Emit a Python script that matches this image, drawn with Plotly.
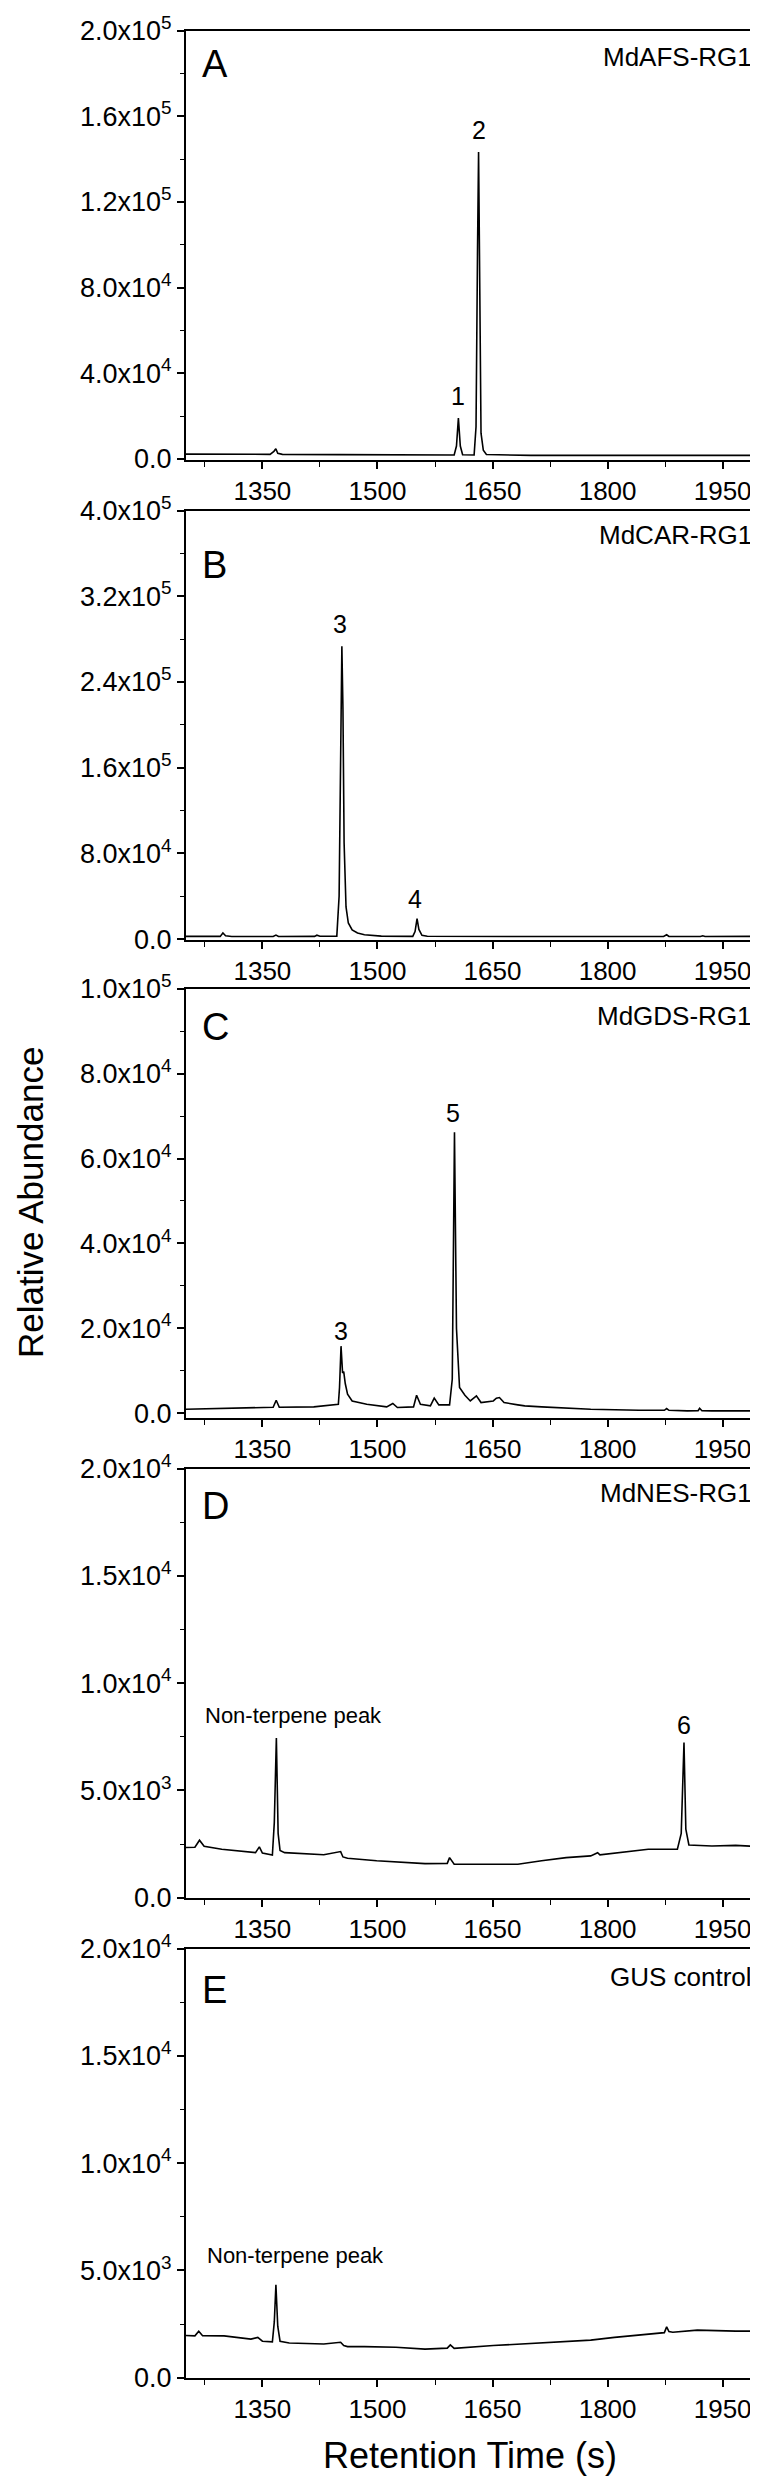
import plotly.graph_objects as go

W, H = 758, 2491

# ---------------- data ----------------
A_time = [1250, 1300, 1360, 1365, 1367.5, 1370, 1376, 1450, 1550, 1600, 1603, 1605.5, 1608, 1611,
          1626, 1628.5, 1630.5, 1631.8, 1633, 1635, 1638, 1642, 1700, 1850, 2000]
A_abund = [2200, 2150, 2100, 3500, 4700, 2600, 2100, 1950, 1850, 1800, 6000, 19000, 6000, 1900,
           1800, 15000, 100000, 143300, 95000, 12000, 4000, 2000, 1600, 1500, 1600]

B_time = [1250, 1295, 1298.5, 1302, 1310, 1364, 1367.7, 1371, 1418, 1421, 1425, 1440, 1447, 1450,
          1452, 1453.6, 1455, 1456.5, 1459, 1462, 1467, 1474, 1483, 1493, 1505, 1546, 1549, 1551.6,
          1554, 1558, 1565, 1700, 1873, 1877, 1880, 1921, 1924, 1927, 2000]
B_abund = [2500, 2500, 5600, 3000, 2400, 2400, 3700, 2400, 2500, 3600, 2600, 2400, 2700, 40000,
           190000, 273400, 215000, 90000, 30000, 15000, 8500, 5600, 4000, 3100, 2700, 2500, 7000, 19000,
           9000, 3500, 2600, 2400, 2400, 4000, 2400, 2400, 3000, 2400, 2500]

C_time = [1250, 1297, 1347, 1364, 1368, 1372, 1417, 1442, 1449, 1450.5, 1452.5, 1454.5, 1456, 1458,
          1461, 1467, 1486, 1512, 1520, 1526, 1547, 1551, 1556, 1569, 1574, 1580, 1594, 1597.5,
          1600.4, 1603, 1607, 1614, 1621, 1629, 1635, 1651, 1655, 1659, 1665, 1683, 1692, 1714,
          1778, 1841, 1874, 1877, 1880, 1904, 1918, 1920, 1923, 1936, 2000]
C_abund = [950, 1180, 1340, 1400, 3070, 1400, 1500, 1970, 2100, 6000, 15800, 9500, 9800, 7000,
           4500, 2900, 2130, 1500, 2290, 1340, 1500, 4250, 2130, 1730, 3550, 1970, 1970, 8000,
           66200, 20000, 6070, 4250, 2900, 4100, 2520, 2900, 3550, 3700, 2520, 1970, 1730, 1500,
           945, 710, 700, 1100, 700, 550, 600, 1180, 600, 550, 550]

D_time = [1250, 1262, 1268, 1274, 1297, 1341, 1346, 1350, 1363, 1365.5, 1368.2, 1370.5, 1373, 1379,
          1430, 1452, 1455, 1461, 1499, 1524, 1562, 1591, 1594, 1600, 1651, 1683, 1714, 1746, 1778,
          1787, 1790, 1815, 1853, 1891, 1896, 1899.6, 1902, 1906, 1936, 1967, 2000]
D_abund = [2340, 2350, 2680, 2400, 2260, 2100, 2370, 2080, 1990, 3500, 7440, 3000, 2200, 2100,
           2000, 2150, 1900, 1840, 1720, 1680, 1590, 1600, 1870, 1560, 1560, 1560, 1720, 1870, 1950,
           2100, 2000, 2100, 2260, 2260, 3000, 7240, 3200, 2460, 2410, 2440, 2380]

E_time = [1250, 1262, 1267, 1272, 1300, 1335, 1344, 1350, 1363, 1365.5, 1367.6, 1370, 1373, 1385,
          1430, 1452, 1456, 1461, 1483, 1524, 1562, 1591, 1595, 1600, 1651, 1714, 1778, 1809, 1853,
          1874, 1877, 1880, 1885, 1917, 1967, 2000]
E_abund = [1970, 1950, 2170, 1960, 1950, 1800, 1880, 1700, 1670, 2600, 4330, 2400, 1700, 1620,
           1570, 1650, 1500, 1450, 1450, 1420, 1330, 1380, 1530, 1370, 1500, 1620, 1750, 1880, 2050,
           2100, 2370, 2150, 2120, 2220, 2170, 2170]

panel_letters = ["A", "B", "C", "D", "E"]
panel_names = ["MdAFS-RG1", "MdCAR-RG1", "MdGDS-RG1", "MdNES-RG1", "GUS control"]

x_tickvals = [1350, 1500, 1650, 1800, 1950]
x_ticktext = ["1350", "1500", "1650", "1800", "1950"]

A_ytickvals = [0, 40000, 80000, 120000, 160000, 200000]
A_yticktext = ["0.0", "4.0x10<sup>4</sup>", "8.0x10<sup>4</sup>", "1.2x10<sup>5</sup>",
               "1.6x10<sup>5</sup>", "2.0x10<sup>5</sup>"]
B_ytickvals = [0, 80000, 160000, 240000, 320000, 400000]
B_yticktext = ["0.0", "8.0x10<sup>4</sup>", "1.6x10<sup>5</sup>", "2.4x10<sup>5</sup>",
               "3.2x10<sup>5</sup>", "4.0x10<sup>5</sup>"]
C_ytickvals = [0, 20000, 40000, 60000, 80000, 100000]
C_yticktext = ["0.0", "2.0x10<sup>4</sup>", "4.0x10<sup>4</sup>", "6.0x10<sup>4</sup>",
               "8.0x10<sup>4</sup>", "1.0x10<sup>5</sup>"]
DE_ytickvals = [0, 5000, 10000, 15000, 20000]
DE_yticktext = ["0.0", "5.0x10<sup>3</sup>", "1.0x10<sup>4</sup>", "1.5x10<sup>4</sup>",
                "2.0x10<sup>4</sup>"]

# peak labels: (panel index, retention time, abundance, text)
peak_labels = [
    (0, 1605.5, 29300, "1"), (0, 1632, 153700, "2"),
    (1, 1451.7, 294600, "3"), (1, 1548.5, 37500, "4"),
    (2, 1452.3, 19300, "3"), (2, 1599, 70700, "5"),
    (3, 1899.6, 8050, "6"),
]
note_labels = [(3, 1390.3, 8485, "Non-terpene peak"), (4, 1392.9, 5700, "Non-terpene peak")]

# ---------------- layout helpers ----------------
FONT = "Liberation Sans, Arial, Helvetica, sans-serif"
def px(x):
    return x / W
def py(y):
    return 1 - y / H

X0, X1 = 177.7, 753.0
panel_tops = [22.7, 502.7, 980.7, 1460.7, 1940.7]
panel_h = 429.0
y_ranges = [[-400, 200000], [-600, 400000], [-1050, 100000], [0, 20000], [0, 20000]]
y_minor = [20000, 40000, 10000, 2500, 2500]
y_ticks = [(A_ytickvals, A_yticktext), (B_ytickvals, B_yticktext), (C_ytickvals, C_yticktext),
           (DE_ytickvals, DE_yticktext), (DE_ytickvals, DE_yticktext)]
letter_off = [33, 54, 38.5, 37, 41]
name_off = [26, 24, 27, 24, 28]

series = [(A_time, A_abund), (B_time, B_abund), (C_time, C_abund), (D_time, D_abund), (E_time, E_abund)]

fig = go.Figure()
annotations = []
lay = {}
for i, (t, a) in enumerate(series):
    sfx = "" if i == 0 else str(i + 1)
    fig.add_trace(go.Scatter(x=t, y=a, mode="lines", line=dict(color="black", width=1.6),
                             xaxis="x" + sfx, yaxis="y" + sfx, showlegend=False, hoverinfo="skip"))
    top = panel_tops[i]
    bot = top + panel_h
    axline = dict(showline=True, linecolor="black", linewidth=1.6, mirror=True, showgrid=False,
                  zeroline=False, automargin=False, ticks="outside", tickcolor="black", tickwidth=1.6)
    lay["xaxis" + sfx] = dict(axline, domain=[px(X0), px(X1)], range=[1250, 2000],
                              anchor="y" + sfx, tickvals=x_tickvals, ticktext=x_ticktext, ticklen=7,
                              tickfont=dict(family=FONT, size=26, color="black"),
                              minor=dict(ticks="outside", ticklen=5, tickcolor="black", tickwidth=1.4,
                                         tick0=1275, dtick=75, showgrid=False))
    tv, tt = y_ticks[i]
    lay["yaxis" + sfx] = dict(axline, domain=[py(bot), py(top)], range=y_ranges[i],
                              anchor="x" + sfx, tickvals=tv, ticktext=tt, ticklen=7,
                              tickfont=dict(family=FONT, size=27, color="black"),
                              minor=dict(ticks="outside", ticklen=4, tickcolor="black", tickwidth=1.4,
                                         tick0=0, dtick=y_minor[i], showgrid=False))
    annotations.append(dict(x=px(X0 + 14), y=py(top + letter_off[i]), xref="paper", yref="paper",
                            text=panel_letters[i], showarrow=False, xanchor="left", yanchor="middle",
                            font=dict(family=FONT, size=38, color="black")))
    annotations.append(dict(x=px(746), y=py(top + name_off[i]), xref="paper", yref="paper",
                            text=panel_names[i], showarrow=False, xanchor="right", yanchor="middle",
                            font=dict(family=FONT, size=26, color="black")))

for (i, xv, yv, txt) in peak_labels:
    sfx = "" if i == 0 else str(i + 1)
    annotations.append(dict(x=xv, y=yv, xref="x" + sfx, yref="y" + sfx, text=txt, showarrow=False,
                            xanchor="center", yanchor="middle",
                            font=dict(family=FONT, size=25, color="black")))
for (i, xv, yv, txt) in note_labels:
    sfx = "" if i == 0 else str(i + 1)
    annotations.append(dict(x=xv, y=yv, xref="x" + sfx, yref="y" + sfx, text=txt, showarrow=False,
                            xanchor="center", yanchor="middle",
                            font=dict(family=FONT, size=22, color="black")))

annotations.append(dict(x=px(22), y=py(1195), xref="paper", yref="paper", text="Relative Abundance",
                        textangle=-90, showarrow=False, xanchor="center", yanchor="middle",
                        font=dict(family=FONT, size=35, color="black")))
annotations.append(dict(x=px(462), y=py(2447), xref="paper", yref="paper", text="Retention Time (s)",
                        showarrow=False, xanchor="center", yanchor="middle",
                        font=dict(family=FONT, size=36, color="black")))

fig.update_layout(width=W, height=H, margin=dict(l=0, r=0, t=0, b=0, pad=0),
                  paper_bgcolor="white", plot_bgcolor="white", template=None,
                  font=dict(family=FONT, color="black"), annotations=annotations, showlegend=False,
                  **lay)

fig.write_html("out.html")
